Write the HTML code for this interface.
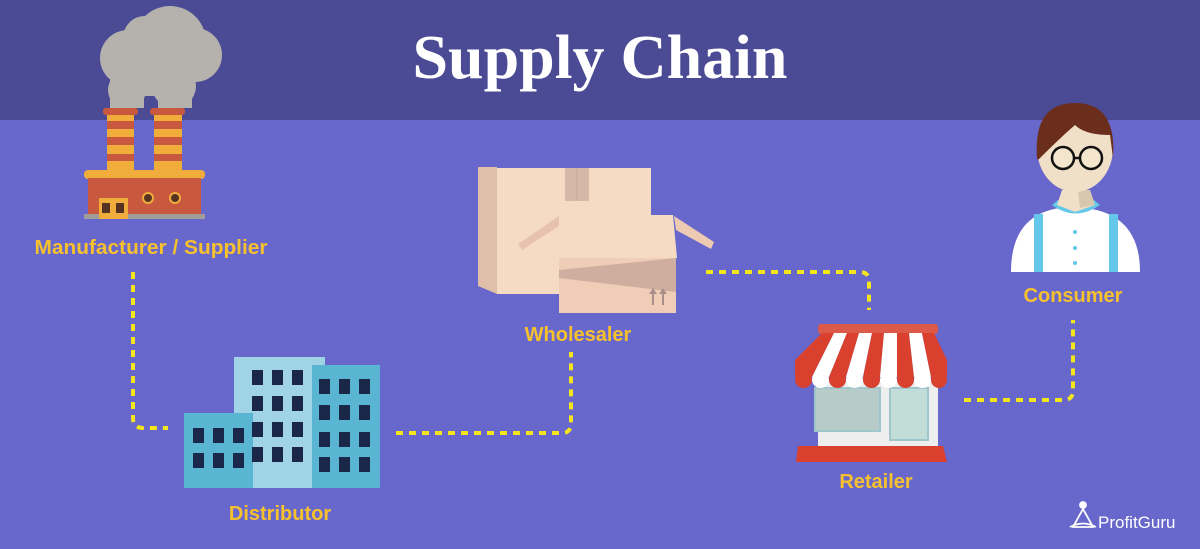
<!DOCTYPE html>
<html><head><meta charset="utf-8"><style>
html,body{margin:0;padding:0;background:#6767cc;}
svg{display:block;}
.lbl{font-family:"Liberation Sans",sans-serif;font-weight:bold;font-size:20px;fill:#f7c12e;}
</style></head><body>
<svg width="1200" height="549" viewBox="0 0 1200 549" xmlns="http://www.w3.org/2000/svg">
<rect width="1200" height="549" fill="#6767cc"/>
<rect width="1200" height="120" fill="#4b4b95"/>
<text x="600" y="78" text-anchor="middle" font-family="Liberation Serif, serif" font-weight="bold" font-size="62" fill="#fff" textLength="375" lengthAdjust="spacingAndGlyphs">Supply Chain</text>

<g fill="none" stroke="#f5e51c" stroke-width="4" stroke-dasharray="7,6">
<path d="M133 272 V418 Q133 428 143 428 H168"/>
<path d="M396 433 H562 Q571 433 571 423 V352"/>
<path d="M706 272 H860 Q869 272 869 282 V310"/>
<path d="M964 400 H1064 Q1073 400 1073 390 V320"/>
</g>

<!-- factory -->
<g>
<g fill="#b5b2ae">
<circle cx="170" cy="42" r="36"/><circle cx="128" cy="58" r="28"/><circle cx="195" cy="55" r="27"/>
<circle cx="127" cy="90" r="19"/><circle cx="174" cy="86" r="22"/><circle cx="145" cy="38" r="22"/>
<rect x="110" y="60" width="82" height="36"/>
<rect x="110" y="88" width="34" height="20"/><rect x="158" y="88" width="34" height="20"/>
</g>
<rect x="103" y="108" width="35" height="7" rx="3" fill="#c8593e"/>
<rect x="150" y="108" width="35" height="7" rx="3" fill="#c8593e"/>
<g fill="#f0ad3b"><rect x="107" y="115" width="27" height="56"/><rect x="154" y="115" width="28" height="56"/></g>
<g fill="#c8593e"><rect x="107" y="121" width="27" height="8"/><rect x="107" y="137" width="27" height="8"/><rect x="107" y="154" width="27" height="7"/>
<rect x="154" y="121" width="28" height="8"/><rect x="154" y="137" width="28" height="8"/><rect x="154" y="154" width="28" height="7"/></g>
<rect x="84" y="170" width="121" height="9" rx="4" fill="#f0ad3b"/>
<rect x="88" y="178" width="113" height="38" fill="#c8593e"/>
<rect x="84" y="214" width="121" height="5" fill="#a09c98"/>
<rect x="99" y="198" width="29" height="21" fill="#f0ad3b"/>
<rect x="102" y="203" width="8" height="10" fill="#553322"/><rect x="116" y="203" width="8" height="10" fill="#553322"/>
<circle cx="148" cy="198" r="5" fill="#553322" stroke="#f0ad3b" stroke-width="2"/>
<circle cx="175" cy="198" r="5" fill="#553322" stroke="#f0ad3b" stroke-width="2"/>
</g>
<text class="lbl" x="151" y="254" text-anchor="middle" textLength="233" lengthAdjust="spacingAndGlyphs">Manufacturer /  Supplier</text>

<!-- distributor -->
<rect x="234" y="357" width="91" height="131" fill="#a0d3e6"/>
<rect x="184" y="413" width="69" height="75" fill="#5ab5d3"/>
<rect x="312" y="365" width="68" height="123" fill="#5ab5d3"/>
<g fill="#1a2748">
<rect x="193" y="428" width="11" height="15"/><rect x="213" y="428" width="11" height="15"/><rect x="233" y="428" width="11" height="15"/>
<rect x="193" y="453" width="11" height="15"/><rect x="213" y="453" width="11" height="15"/><rect x="233" y="453" width="11" height="15"/>
<rect x="252" y="370" width="11" height="15"/><rect x="272" y="370" width="11" height="15"/><rect x="292" y="370" width="11" height="15"/>
<rect x="252" y="396" width="11" height="15"/><rect x="272" y="396" width="11" height="15"/><rect x="292" y="396" width="11" height="15"/>
<rect x="252" y="422" width="11" height="15"/><rect x="272" y="422" width="11" height="15"/><rect x="292" y="422" width="11" height="15"/>
<rect x="252" y="447" width="11" height="15"/><rect x="272" y="447" width="11" height="15"/><rect x="292" y="447" width="11" height="15"/>
<rect x="319" y="379" width="11" height="15"/><rect x="339" y="379" width="11" height="15"/><rect x="359" y="379" width="11" height="15"/>
<rect x="319" y="405" width="11" height="15"/><rect x="339" y="405" width="11" height="15"/><rect x="359" y="405" width="11" height="15"/>
<rect x="319" y="432" width="11" height="15"/><rect x="339" y="432" width="11" height="15"/><rect x="359" y="432" width="11" height="15"/>
<rect x="319" y="457" width="11" height="15"/><rect x="339" y="457" width="11" height="15"/><rect x="359" y="457" width="11" height="15"/>
</g>
<text class="lbl" x="280" y="520" text-anchor="middle">Distributor</text>

<!-- wholesaler -->
<polygon points="478,167 497,167 497,294 478,286" fill="#dfbfa9"/>
<rect x="497" y="168" width="154" height="126" fill="#f5dbc4"/>
<rect x="565" y="168" width="24" height="33" fill="#d7b7a8"/>
<line x1="577" y1="168" x2="577" y2="201" stroke="#c9a898" stroke-width="1"/>
<polygon points="559,215 673,215 677,258 559,268" fill="#f5dbc4"/>
<polygon points="559,216 518,244 522,250 559,226" fill="#e7c3ad"/>
<polygon points="674,216 714,242 711,249 676,230" fill="#efcab3"/>
<rect x="559" y="258" width="117" height="55" fill="#efcdb7"/>
<polygon points="559,270 676,258 676,292 559,278" fill="#cfae9f"/>
<g stroke="#a98e8a" stroke-width="2"><line x1="653" y1="305" x2="653" y2="292"/><line x1="663" y1="305" x2="663" y2="292"/></g>
<polygon points="649,294 653,288 657,294" fill="#a98e8a"/><polygon points="659,294 663,288 667,294" fill="#a98e8a"/>
<text class="lbl" x="578" y="341" text-anchor="middle">Wholesaler</text>

<!-- retailer -->
<rect x="818" y="380" width="120" height="66" fill="#eeeeee"/>
<rect x="815" y="388" width="65" height="43" fill="#b7cbc9" stroke="#9fc6ca" stroke-width="2"/>
<rect x="890" y="388" width="38" height="52" fill="#c2dcd8" stroke="#9fc6ca" stroke-width="2"/>
<rect x="818" y="324" width="120" height="10" rx="3" fill="#dd5a4a"/>
<g>
<polygon points="822,333 834,333 812,377 795,377 795,360" fill="#d9402e"/>
<polygon points="834,333 847,333 829,377 812,377" fill="#ffffff"/>
<polygon points="847,333 859,333 846,377 829,377" fill="#d9402e"/>
<polygon points="859,333 872,333 863,377 846,377" fill="#ffffff"/>
<polygon points="872,333 884,333 880,377 863,377" fill="#d9402e"/>
<polygon points="884,333 897,333 897,377 880,377" fill="#ffffff"/>
<polygon points="897,333 909,333 914,377 897,377" fill="#d9402e"/>
<polygon points="909,333 922,333 931,377 914,377" fill="#ffffff"/>
<polygon points="922,333 934,333 947,360 947,377 931,377" fill="#d9402e"/>
</g>
<g>
<ellipse cx="803.5" cy="380" rx="8.5" ry="8" fill="#d9402e"/>
<ellipse cx="820.5" cy="380" rx="8.5" ry="8" fill="#ffffff"/>
<ellipse cx="837.5" cy="380" rx="8.5" ry="8" fill="#d9402e"/>
<ellipse cx="854.5" cy="380" rx="8.5" ry="8" fill="#ffffff"/>
<ellipse cx="871.5" cy="380" rx="8.5" ry="8" fill="#d9402e"/>
<ellipse cx="888.5" cy="380" rx="8.5" ry="8" fill="#ffffff"/>
<ellipse cx="905.5" cy="380" rx="8.5" ry="8" fill="#d9402e"/>
<ellipse cx="922.5" cy="380" rx="8.5" ry="8" fill="#ffffff"/>
<ellipse cx="939" cy="380" rx="8" ry="8" fill="#d9402e"/>
</g>
<polygon points="798,446 943,446 947,462 796,462" fill="#d9402e"/>
<text class="lbl" x="876" y="488" text-anchor="middle">Retailer</text>

<!-- consumer -->
<path d="M1011 272 Q1011 215 1060 208 L1086 208 Q1140 215 1140 272 Z" fill="#ffffff"/>
<rect x="1034" y="214" width="9" height="58" fill="#63c8ea"/><rect x="1109" y="214" width="9" height="58" fill="#63c8ea"/>
<path d="M1052 205 Q1075 222 1100 205 L1094 200 Q1075 212 1058 200 Z" fill="#63c8ea"/>
<polygon points="1062,190 1090,190 1095,205 1075,212 1057,205" fill="#efe0c7"/>
<polygon points="1078,190 1090,190 1095,205 1080,208" fill="#d8c7af"/>
<ellipse cx="1075" cy="148" rx="38" ry="44" fill="#efe0c7"/>
<path d="M1037 158 Q1033 103 1075 103 Q1117 103 1113 158 L1110 135 Q1085 135 1075 125 Q1060 138 1038 160 Z" fill="#6b2e1c"/>
<g fill="#f3e6cc" stroke="#111" stroke-width="2.5"><circle cx="1063" cy="158" r="11"/><circle cx="1091" cy="158" r="11"/></g>
<line x1="1074" y1="158" x2="1080" y2="158" stroke="#111" stroke-width="2.5"/>
<g fill="#63c8ea"><circle cx="1075" cy="232" r="2"/><circle cx="1075" cy="248" r="2"/><circle cx="1075" cy="263" r="2"/></g>
<text class="lbl" x="1073" y="302" text-anchor="middle">Consumer</text>

<!-- logo -->
<g fill="none" stroke="#fff" stroke-width="1.8">
<circle cx="1083" cy="505" r="3" fill="#fff"/>
<path d="M1083 509 L1073 527 H1093 Z"/>
<path d="M1070 527 Q1083 520 1096 527"/>
</g>
<text x="1098" y="528" font-family="Liberation Sans, sans-serif" font-size="17" fill="#fff">ProfitGuru</text>
</svg>
</body></html>
